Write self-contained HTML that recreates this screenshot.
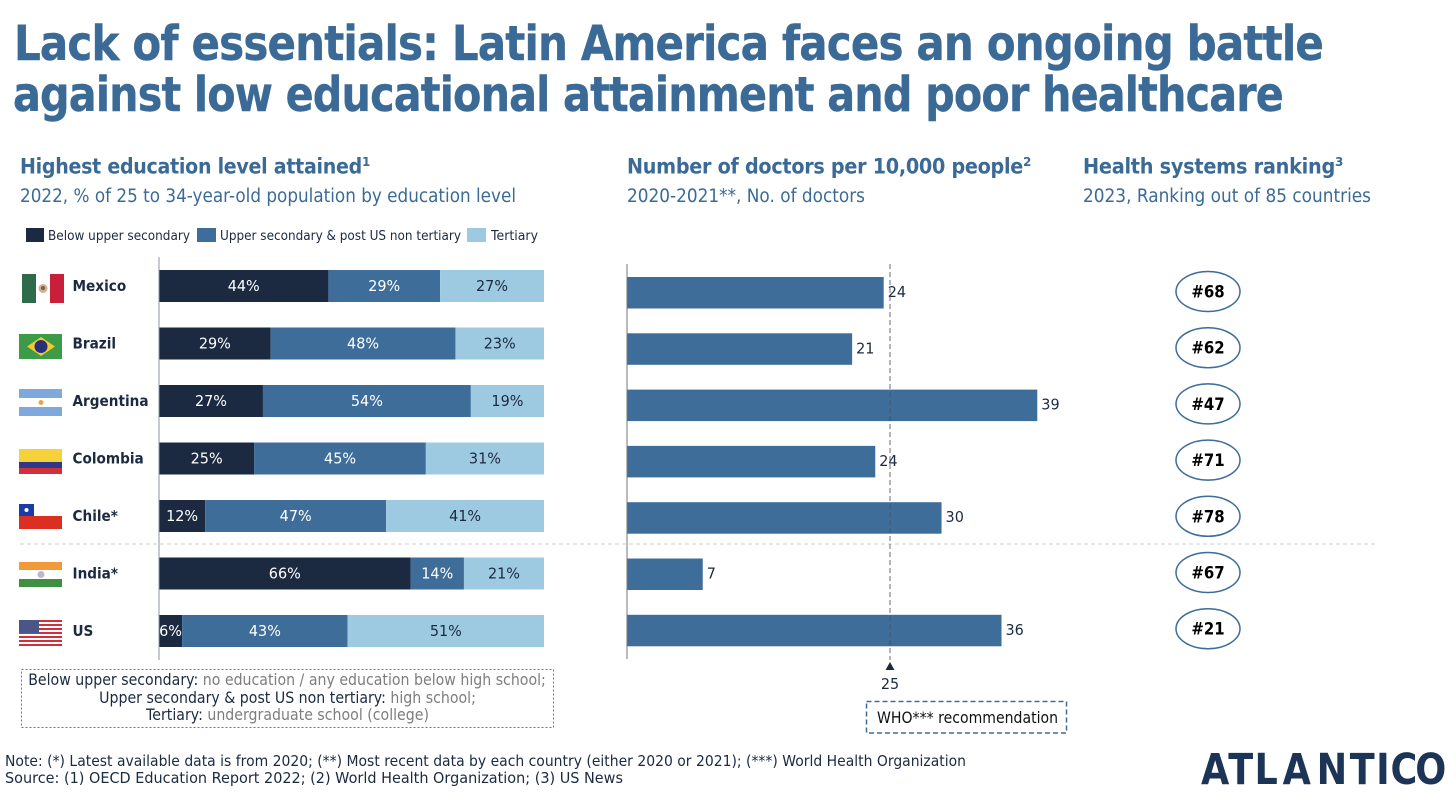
<!DOCTYPE html>
<html lang="en">
<head>
<meta charset="utf-8">
<title>Lack of essentials</title>
<style>
html,body{margin:0;padding:0;background:#fff;width:1456px;height:809px;overflow:hidden}
svg{display:block}
text{font-family:"DejaVu Sans","Liberation Sans",sans-serif}
</style>
</head>
<body>
<svg id="chart" xmlns="http://www.w3.org/2000/svg" width="1456" height="809" viewBox="0 0 1456 809">
<rect width="1456" height="809" fill="#fff"/>
<text x="14" y="60" font-size="48" font-weight="700" letter-spacing="-1" fill="#3b6a96" stroke="#3b6a96" stroke-width="0.4" textLength="1309" lengthAdjust="spacingAndGlyphs">Lack of essentials: Latin America faces an ongoing battle</text>
<text x="13" y="111" font-size="48" font-weight="700" letter-spacing="-1" fill="#3b6a96" stroke="#3b6a96" stroke-width="0.4" textLength="1270" lengthAdjust="spacingAndGlyphs">against low educational attainment and poor healthcare</text>

<text x="20" y="173.500" font-size="21" font-weight="700" letter-spacing="-0.3" fill="#3b6a96" textLength="342" lengthAdjust="spacingAndGlyphs">Highest education level attained</text>
<text x="362" y="166" font-size="12" font-weight="700" fill="#3b6a96">1</text>
<text x="20" y="202" font-size="18.500" fill="#3b6a96" textLength="496" lengthAdjust="spacingAndGlyphs">2022, % of 25 to 34-year-old population by education level</text>

<text x="627" y="173.500" font-size="21" font-weight="700" letter-spacing="-0.3" fill="#3b6a96" textLength="396" lengthAdjust="spacingAndGlyphs">Number of doctors per 10,000 people</text>
<text x="1023" y="166" font-size="12" font-weight="700" fill="#3b6a96">2</text>
<text x="627" y="202" font-size="18.500" fill="#3b6a96" textLength="238" lengthAdjust="spacingAndGlyphs">2020-2021**, No. of doctors</text>

<text x="1083" y="173.500" font-size="21" font-weight="700" letter-spacing="-0.3" fill="#3b6a96" textLength="252" lengthAdjust="spacingAndGlyphs">Health systems ranking</text>
<text x="1335" y="166" font-size="12" font-weight="700" fill="#3b6a96">3</text>
<text x="1083" y="202" font-size="18.500" fill="#3b6a96" textLength="288" lengthAdjust="spacingAndGlyphs">2023, Ranking out of 85 countries</text>

<g>
<rect x="26" y="228" width="18" height="14" fill="#1b2a41"/>
<text x="48" y="240" font-size="13" fill="#1b2a41" textLength="142" lengthAdjust="spacingAndGlyphs">Below upper secondary</text>
<rect x="197" y="228" width="19" height="14" fill="#3f6d9a"/>
<text x="220" y="240" font-size="13" fill="#1b2a41" textLength="241" lengthAdjust="spacingAndGlyphs">Upper secondary &amp; post US non tertiary</text>
<rect x="467" y="228" width="19" height="14" fill="#9ecae1"/>
<text x="491" y="240" font-size="13" fill="#1b2a41" textLength="47" lengthAdjust="spacingAndGlyphs">Tertiary</text>
</g>

<g>
<rect x="22" y="274" width="14" height="29" fill="#2f6b4a"/><rect x="36" y="274" width="14" height="29" fill="#fff"/><rect x="50" y="274" width="14" height="29" fill="#c8203a"/><circle cx="43" cy="288.500" r="4.500" fill="#c9b49a"/><circle cx="43" cy="288" r="2" fill="#8a5a3a"/>
</g>
<g>
<rect x="19" y="334" width="43" height="25" fill="#3d9a46"/><polygon points="27,346.500 41,337 55,346.500 41,356" fill="#f2c92e"/><circle cx="41" cy="346.500" r="6.500" fill="#2a2f7a"/>
</g>
<g>
<rect x="19" y="389" width="43" height="9" fill="#7fa9dc"/><rect x="19" y="407" width="43" height="9" fill="#7fa9dc"/><circle cx="41" cy="402.500" r="2.500" fill="#e0a84a"/>
</g>
<g>
<rect x="19" y="449" width="43" height="13" fill="#f5d13a"/><rect x="19" y="462" width="43" height="6" fill="#2d3a8c"/><rect x="19" y="468" width="43" height="6" fill="#d22f3a"/>
</g>
<g>
<rect x="19" y="504" width="43" height="12" fill="#fff"/><rect x="19" y="504" width="15" height="12" fill="#1a3ca8"/><rect x="19" y="516" width="43" height="13" fill="#dc2f24"/><circle cx="26.500" cy="510" r="2" fill="#fff"/>
</g>
<g>
<rect x="19" y="562" width="43" height="8" fill="#f29a3a"/><rect x="19" y="579" width="43" height="8" fill="#3f8f42"/><circle cx="41" cy="574.500" r="3.500" fill="#b9b9d0"/>
</g>
<g>
<rect x="19" y="620" width="43" height="2" fill="#d0303a"/><rect x="19" y="624" width="43" height="2" fill="#d0303a"/><rect x="19" y="628" width="43" height="2" fill="#d0303a"/><rect x="19" y="632" width="43" height="2" fill="#d0303a"/><rect x="19" y="636" width="43" height="2" fill="#d0303a"/><rect x="19" y="640" width="43" height="2" fill="#d0303a"/><rect x="19" y="644" width="43" height="2" fill="#d0303a"/><rect x="19" y="620" width="20" height="13" fill="#4a5688"/>
</g>

<line x1="20" y1="544" x2="1378" y2="544" stroke="#cfcfcf" stroke-dasharray="4 3"/>

<g id="edu"></g>
<g id="doc"></g>
<g id="rank"></g>

<rect x="21.500" y="669.500" width="532" height="58" fill="none" stroke="#777" stroke-dasharray="2 2"/>
<text transform="translate(287 685) scale(0.885 1)" text-anchor="middle" font-size="16" fill="#1b2a41">Below upper secondary: <tspan fill="#7d7d7d">no education / any education below high school;</tspan></text>
<text transform="translate(287.500 703) scale(0.885 1)" text-anchor="middle" font-size="16" fill="#1b2a41">Upper secondary &amp; post US non tertiary: <tspan fill="#7d7d7d">high school;</tspan></text>
<text transform="translate(287.500 720) scale(0.885 1)" text-anchor="middle" font-size="16" fill="#1b2a41">Tertiary: <tspan fill="#7d7d7d">undergraduate school (college)</tspan></text>

<rect x="866.500" y="701.500" width="200" height="31.500" fill="none" stroke="#3f6d9a" stroke-width="1.500" stroke-dasharray="5 3"/>
<text x="877" y="723" font-size="16" fill="#111" textLength="181" lengthAdjust="spacingAndGlyphs">WHO*** recommendation</text>

<text x="5" y="766" font-size="15.500" fill="#1b2a41" textLength="961" lengthAdjust="spacingAndGlyphs">Note: (*) Latest available data is from 2020; (**) Most recent data by each country (either 2020 or 2021); (***) World Health Organization</text>
<text x="5" y="783" font-size="15.500" fill="#1b2a41" textLength="618" lengthAdjust="spacingAndGlyphs">Source: (1) OECD Education Report 2022; (2) World Health Organization; (3) US News</text>
<text transform="translate(1201 784) scale(0.85 1)" x="0 32 63 96 136 175 206 223 252" y="0" font-size="43" font-weight="700" fill="#1c3557">ATLANTICO</text>
</svg>
<script>
const countries = ['Mexico', 'Brazil', 'Argentina', 'Colombia', 'Chile*', 'India*', 'US'];
const belowUpperSecondary = [44, 29, 27, 25, 12, 66, 6];
const upperSecondary = [29, 48, 54, 45, 47, 14, 43];
const tertiary = [27, 23, 19, 31, 41, 21, 51];
const doctors = [24.4, 21.4, 39.0, 23.6, 29.9, 7.2, 35.6];
const whoRecommendation = 25;
const rankings = [68, 62, 47, 71, 78, 67, 21];

const NS = 'http://www.w3.org/2000/svg';
const eduX = v => 159 + v * 3.85;
const eduY = i => 270 + i * 57.5;
const docX = v => 627 + v * 10.52;
const docY = i => 277 + i * 56.3;
const rankY = i => 291.5 + i * 56.2;

function make(parent, tag, attrs) {
  const el = document.createElementNS(NS, tag);
  for (const k in attrs) el.setAttribute(k, attrs[k]);
  parent.appendChild(el);
  return el;
}
function label(parent, x, y, str, size, fill, weight, anchor, sx) {
  const el = make(parent, 'text', {
    transform: 'translate(' + x + ' ' + y + ') scale(' + sx + ' 1)',
    'font-size': size, fill: fill, 'font-weight': weight, 'text-anchor': anchor
  });
  el.textContent = str;
  return el;
}

const edu = document.getElementById('edu');
const doc = document.getElementById('doc');
const rank = document.getElementById('rank');
const segColors = ['#1b2a41', '#3f6d9a', '#9ecae1'];
const segText = ['#fff', '#fff', '#1b2a41'];
const segSeries = [belowUpperSecondary, upperSecondary, tertiary];
const segKeys = ['below-upper-secondary', 'upper-secondary', 'tertiary'];

countries.forEach((c, i) => {
  const key = c.replace('*', '').toLowerCase();
  const name = label(edu, 72.5, eduY(i) + 21, c, 15.5, '#1b2a41', 700, 'start', 0.88);
  
  

  const total = belowUpperSecondary[i] + upperSecondary[i] + tertiary[i];
  let cum = 0;
  segSeries.forEach((series, s) => {
    const share = series[i] / total * 100;
    const x0 = eduX(cum);
    const x1 = eduX(cum + share);
    const bar = make(edu, 'rect', { x: x0, y: eduY(i), width: x1 - x0, height: 32, fill: segColors[s] });
    
    
    const val = label(edu, (x0 + x1) / 2, eduY(i) + 21, series[i] + '%', 15.5, segText[s], 400, 'middle', 0.93);
    
    
    cum += share;
  });

  const dBar = make(doc, 'rect', { x: docX(0), y: docY(i), width: docX(doctors[i]) - docX(0), height: 31.5, fill: '#3f6d9a' });
  
  
  const dVal = label(doc, docX(doctors[i]) + 4, docY(i) + 20, String(Math.round(doctors[i])), 15.5, '#1b2a41', 400, 'start', 0.93);
  
  

  const ell = make(rank, 'ellipse', { cx: 1208, cy: rankY(i), rx: 32, ry: 20, fill: '#fff', stroke: '#3f6d9a', 'stroke-width': 1.5 });
  
  
  const rVal = label(rank, 1208, rankY(i) + 6, '#' + rankings[i], 17, '#000', 700, 'middle', 0.88);
  
  
});

const eduAxis = make(edu, 'line', { x1: 159, y1: 257, x2: 159, y2: 660, stroke: '#8b93a5', 'stroke-width': 1 });


const docAxis = make(doc, 'line', { x1: 627, y1: 264, x2: 627, y2: 659, stroke: '#777', 'stroke-width': 1 });



const wx = docX(whoRecommendation);
const wl = make(doc, 'line', { x1: wx, y1: 264, x2: wx, y2: 660, stroke: '#4a4a55', 'stroke-width': 0.8, 'stroke-dasharray': '5 3' });


const tri = make(doc, 'polygon', { points: (wx - 4.5) + ',670 ' + (wx + 4.5) + ',670 ' + wx + ',662', fill: '#1b2a41' });


const wv = label(doc, wx, 689, String(whoRecommendation), 15.5, '#1b2a41', 400, 'middle', 0.93);


</script>
</body>
</html>
